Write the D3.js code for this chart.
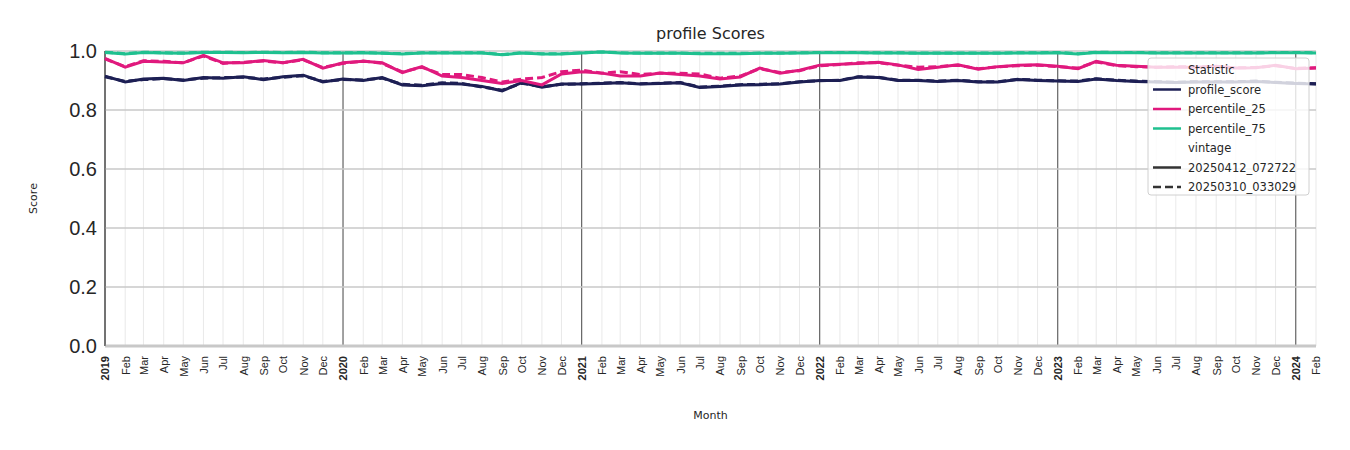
<!DOCTYPE html>
<html><head><meta charset="utf-8">
<script src="https://cdn.jsdelivr.net/npm/d3@7"></script>
<style>body{margin:0;background:#fff;font-family:"DejaVu Sans",sans-serif}</style>
</head><body><svg id="chart" width="1350" height="450"></svg>
<script>
// monthly values, Jan 2019 .. Feb 2024
const startMonth = new Date(2019, 0, 1);
const profileNew = [.915,.895,.905,.908,.9,.91,.908,.913,.903,.913,.918,.895,
  .905,.9,.91,.885,.882,.89,.888,.88,.865,.893,.877,.888,
  .888,.89,.892,.888,.89,.892,.876,.88,.885,.886,.888,.895,
  .9,.9,.912,.91,.9,.9,.897,.9,.895,.895,.903,.9,
  .898,.897,.905,.9,.897,.895,.893,.895,.895,.895,.897,.893,
  .89,.888];
const profileOld = [.913,.897,.903,.906,.902,.908,.91,.911,.905,.911,.916,.897,
  .903,.902,.908,.887,.884,.892,.89,.878,.867,.891,.879,.887,
  .889,.891,.893,.889,.891,.893,.878,.881,.886,.887,.889,.896,
  .899,.901,.913,.911,.901,.901,.898,.901,.896,.896,.904,.901,
  .899,.898,.906,.901,.898,.896,.894,.896,.896,.896,.898,.894,
  .891,.889];
const p25New = [.975,.945,.965,.963,.96,.985,.96,.96,.968,.96,.972,.942,
  .96,.965,.96,.927,.947,.915,.91,.9,.89,.9,.885,.922,
  .93,.925,.915,.915,.925,.92,.915,.905,.912,.942,.925,.935,
  .952,.955,.958,.962,.953,.937,.945,.953,.938,.947,.952,.953,
  .948,.94,.965,.952,.948,.945,.945,.945,.948,.942,.943,.952,
  .94,.942];
const p25Old = [.973,.947,.967,.965,.96,.983,.958,.962,.966,.96,.97,.944,
  .958,.966,.958,.929,.945,.92,.92,.91,.895,.905,.91,.93,
  .935,.925,.93,.92,.925,.925,.922,.908,.915,.94,.927,.933,
  .95,.954,.96,.96,.952,.945,.947,.952,.94,.946,.95,.952,
  .947,.942,.963,.95,.947,.945,.947,.946,.947,.943,.944,.95,
  .941,.943];
const p75New = [.995,.99,.995,.993,.992,.995,.995,.994,.995,.994,.995,.993,
  .993,.994,.992,.99,.993,.993,.993,.993,.987,.993,.99,.99,
  .993,.997,.993,.992,.992,.992,.991,.991,.991,.992,.992,.993,
  .994,.994,.994,.993,.993,.992,.992,.992,.992,.992,.993,.993,
  .994,.99,.995,.994,.994,.993,.993,.993,.993,.993,.993,.994,
  .994,.993];
const p75Old = [.996,.991,.996,.994,.993,.996,.996,.995,.996,.995,.996,.994,
  .994,.995,.993,.991,.994,.994,.994,.994,.988,.994,.991,.991,
  .994,.997,.994,.993,.993,.993,.992,.992,.992,.993,.993,.994,
  .995,.995,.995,.994,.994,.993,.993,.993,.993,.993,.994,.994,
  .995,.991,.996,.995,.995,.994,.994,.994,.994,.994,.994,.995,
  .995,.994];
const yTicks = [0, 0.2, 0.4, 0.6, 0.8, 1.0];

const series = [
  {name: "profile_score", color: "#1d1f54", values: profileNew, dash: null},
  {name: "profile_score", color: "#1d1f54", values: profileOld, dash: "8,4"},
  {name: "percentile_25", color: "#e0197d", values: p25New, dash: null},
  {name: "percentile_25", color: "#e0197d", values: p25Old, dash: "8,4"},
  {name: "percentile_75", color: "#1fc08f", values: p75New, dash: null},
  {name: "percentile_75", color: "#1fc08f", values: p75Old, dash: "8,4"}
];

const svg = d3.select("#chart");
const margin = {top: 51, right: 34, bottom: 104, left: 105};
const width = 1350 - margin.left - margin.right;
const height = 450 - margin.top - margin.bottom;
const g = svg.append("g").attr("transform", `translate(${margin.left},${margin.top})`);

const months = d3.range(profileNew.length).map(i => d3.timeMonth.offset(startMonth, i));
const x = d3.scaleTime().domain([months[0], months[months.length - 1]]).range([0, width]);
const y = d3.scaleLinear().domain([0, 1]).range([height, 0]);

// minor month gridlines, dark at year start
g.selectAll(".mgrid").data(months).enter().append("line")
  .attr("x1", d => x(d)).attr("x2", d => x(d)).attr("y1", 0).attr("y2", height)
  .attr("stroke", d => d.getMonth() === 0 ? "#444" : "#e3e3e3")
  .attr("stroke-width", d => d.getMonth() === 0 ? 1 : 0.8);

// horizontal gridlines
g.selectAll(".hgrid").data(yTicks).enter().append("line")
  .attr("x1", 0).attr("x2", width).attr("y1", d => y(d)).attr("y2", d => y(d))
  .attr("stroke", "#c8c8c8").attr("stroke-width", d => d === 0 ? 3 : 1.5);

g.append("line").attr("x1", 0).attr("x2", 0).attr("y1", 0).attr("y2", height).attr("stroke", "#444");

const line = d3.line().x((d, i) => x(months[i])).y(d => y(d));
series.forEach(s => {
  g.append("path").datum(s.values)
    .attr("fill", "none").attr("stroke", s.color).attr("stroke-width", 3)
    .attr("stroke-dasharray", s.dash).attr("d", line);
});

// y axis
const yAxis = g.append("g").call(d3.axisLeft(y).tickValues(yTicks).tickFormat(d3.format(".1f")).tickSize(0).tickPadding(8));
yAxis.select(".domain").remove();
yAxis.selectAll("text").style("font-size", "20px").attr("fill", "#262626");

// x axis
const xAxis = g.append("g").attr("transform", `translate(0,${height})`)
  .call(d3.axisBottom(x).tickValues(months).tickSize(0)
    .tickFormat(d => d.getMonth() === 0 ? d3.timeFormat("%Y")(d) : d3.timeFormat("%b")(d)));
xAxis.select(".domain").remove();
xAxis.selectAll("text")
  .attr("transform", "rotate(-90)").attr("text-anchor", "end")
  .attr("x", -10).attr("y", 0).attr("dy", "0.35em")
  .style("font-size", "11px").attr("fill", "#262626")
  .style("font-weight", d => d.getMonth() === 0 ? "bold" : "normal");

svg.append("text").attr("x", margin.left + width / 2).attr("y", 39).attr("text-anchor", "middle")
  .style("font-size", "16px").attr("fill", "#262626").text("profile Scores");
svg.append("text").attr("x", margin.left + width / 2).attr("y", 419).attr("text-anchor", "middle")
  .style("font-size", "11px").attr("fill", "#262626").text("Month");
svg.append("text").attr("transform", `translate(37,${margin.top + height / 2}) rotate(-90)`)
  .attr("text-anchor", "middle").style("font-size", "11px").attr("fill", "#262626").text("Score");

// legend
const lg = svg.append("g").attr("transform", "translate(1148,58)");
lg.append("rect").attr("width", 161).attr("height", 137).attr("rx", 3)
  .attr("fill", "rgba(255,255,255,0.8)").attr("stroke", "#d0d0d0");
const entries = [
  {label: "Statistic", header: true},
  {label: "profile_score", color: "#1d1f54"},
  {label: "percentile_25", color: "#e0197d"},
  {label: "percentile_75", color: "#1fc08f"},
  {label: "vintage", header: true},
  {label: "20250412_072722", color: "#333"},
  {label: "20250310_033029", color: "#333", dash: "8,4"}
];
entries.forEach((e, i) => {
  const yy = 12 + i * 19.5;
  if (!e.header) {
    lg.append("line").attr("x1", 5).attr("x2", 33).attr("y1", yy).attr("y2", yy)
      .attr("stroke", e.color).attr("stroke-width", 2.5).attr("stroke-dasharray", e.dash || null);
  }
  lg.append("text").attr("x", 40).attr("y", yy).attr("dy", "0.35em")
    .style("font-size", "11.5px").attr("fill", "#262626").text(e.label);
});
</script></body></html>
